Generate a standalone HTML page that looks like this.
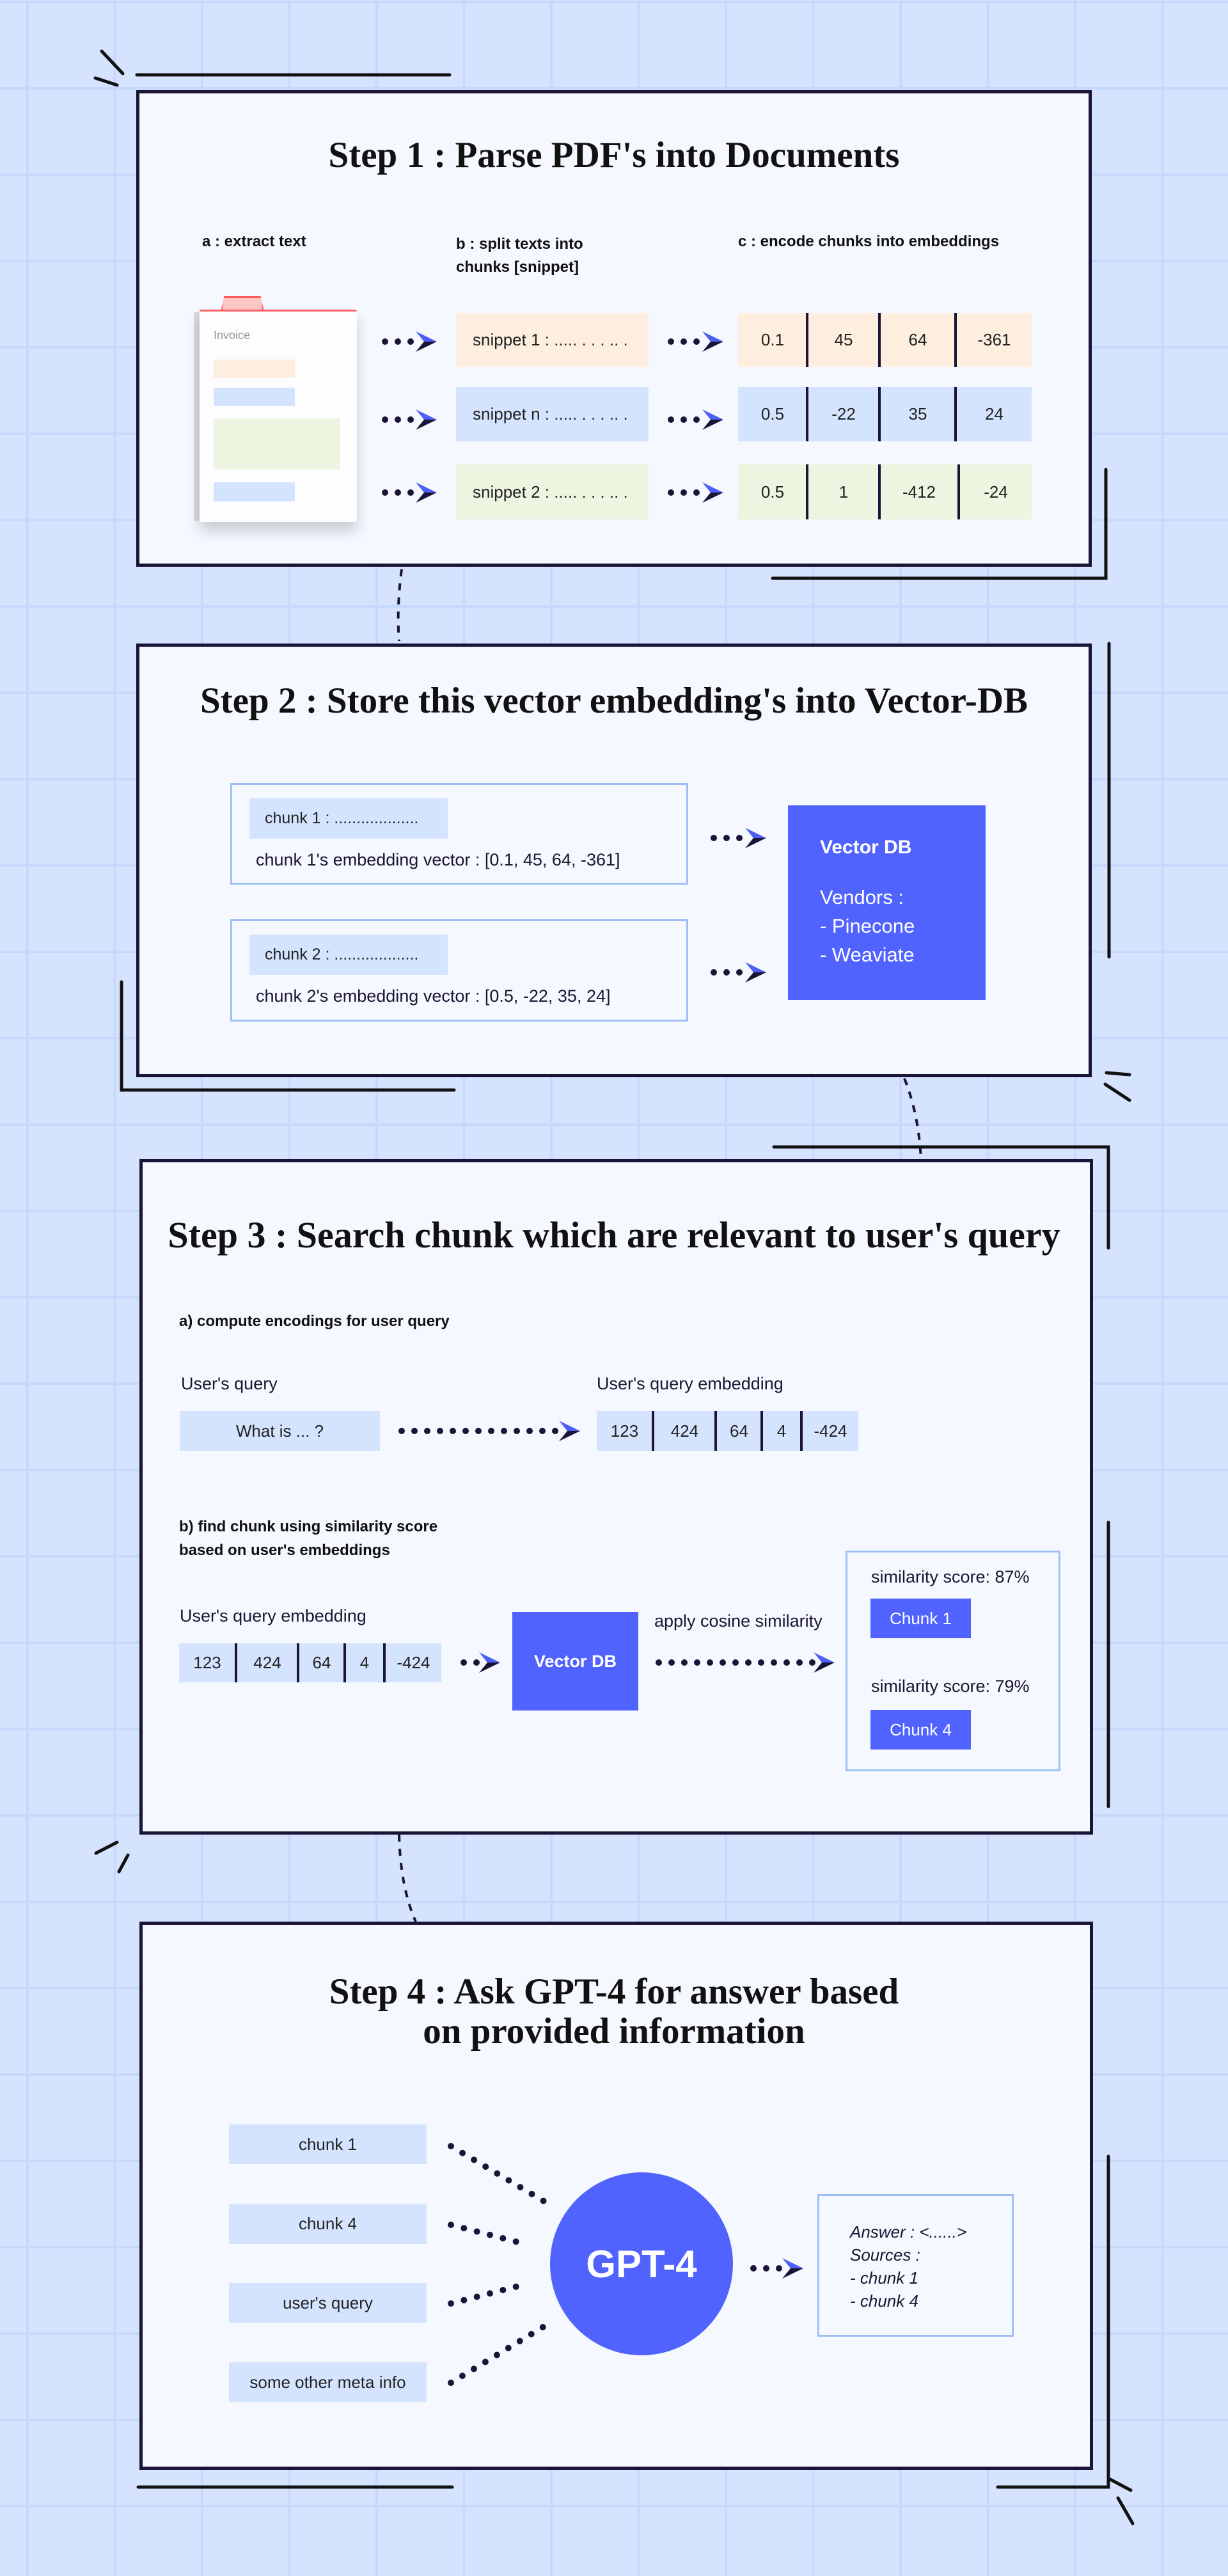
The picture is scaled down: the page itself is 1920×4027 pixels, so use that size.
<!DOCTYPE html>
<html><head><meta charset="utf-8">
<style>
*{margin:0;padding:0;box-sizing:border-box}
body{width:1920px;height:4027px;position:relative;overflow:hidden;font-family:"Liberation Sans",sans-serif;color:#1a1530;
background-color:#d5e3ff;
background-image:linear-gradient(to right,#c8d8fb 0,#c8d8fb 4px,transparent 4px),linear-gradient(to bottom,#c8d8fb 0,#c8d8fb 4px,transparent 4px);
background-size:136.5px 135px;background-position:41px 0,0 136px}
.a{position:absolute}
.panel{position:absolute;background:#f5f8ff;border:5px solid #1a1436}
.t{position:absolute;white-space:nowrap}
.title{font-family:"Liberation Serif",serif;font-weight:bold;font-size:57px;color:#111;text-align:center;left:0;width:1920px}
.lbl{font-weight:bold;font-size:24px;color:#111}
.box{position:absolute;display:flex;align-items:center;justify-content:center;font-size:26px;color:#222}
.cell{position:absolute;display:flex;align-items:center;justify-content:center;font-size:26px;color:#222;height:100%;top:0}
.div{position:absolute;top:0;width:4px;height:100%;background:#1a1436}
</style></head><body>

<!-- STEP 1 -->
<div class="panel" style="left:213px;top:141px;width:1494px;height:745px"></div>
<div class="t title" style="top:210px;line-height:66px">Step 1 : Parse PDF's into Documents</div>
<div class="t lbl" style="left:316px;top:364px">a : extract text</div>
<div class="t lbl" style="left:713px;top:364px;line-height:36px">b : split texts into<br>chunks [snippet]</div>
<div class="t lbl" style="left:1154px;top:364px">c : encode chunks into embeddings</div>

<!-- invoice -->
<div class="a" style="left:303px;top:488px;width:12px;height:326px;background:#d8d9de"></div>
<div class="a" style="left:345px;top:463px;width:68px;height:24px;background:#ffc6c6;border:3px solid #ff5a5a;border-bottom:none;clip-path:polygon(8% 0,92% 0,100% 100%,0 100%)"></div>
<div class="a" style="left:312px;top:484px;width:246px;height:332px;background:#fdfdff;border-top:3px solid #ff6060;box-shadow:0 14px 22px rgba(0,0,0,.18);border-radius:3px"></div>
<div class="t" style="left:334px;top:514px;font-size:18px;color:#999">Invoice</div>
<div class="a" style="left:334px;top:562px;width:127px;height:29px;background:#fdeee0"></div>
<div class="a" style="left:334px;top:606px;width:127px;height:29px;background:#d4e4ff"></div>
<div class="a" style="left:334px;top:654px;width:198px;height:80px;background:#edf4e0"></div>
<div class="a" style="left:334px;top:754px;width:127px;height:30px;background:#d4e4ff"></div>

<div class="box" style="left:713px;top:489px;width:301px;height:85px;background:#fdeee0;justify-content:flex-start;padding-left:26px">snippet 1 : ..... . . . .. .</div>
<div class="box" style="left:713px;top:605px;width:301px;height:85px;background:#d4e4ff;justify-content:flex-start;padding-left:26px">snippet n : ..... . . . .. .</div>
<div class="box" style="left:713px;top:726px;width:301px;height:86px;background:#edf4e0;justify-content:flex-start;padding-left:26px">snippet 2 : ..... . . . .. .</div>

<div class="a" style="left:1154px;top:489px;width:459px;height:85px;background:#fdeee0">
 <div class="cell" style="left:0;width:108px">0.1</div><div class="div" style="left:106px"></div>
 <div class="cell" style="left:110px;width:110px">45</div><div class="div" style="left:219px"></div>
 <div class="cell" style="left:223px;width:116px">64</div><div class="div" style="left:338px"></div>
 <div class="cell" style="left:342px;width:117px">-361</div></div>
<div class="a" style="left:1154px;top:605px;width:459px;height:85px;background:#d4e4ff">
 <div class="cell" style="left:0;width:108px">0.5</div><div class="div" style="left:106px"></div>
 <div class="cell" style="left:110px;width:110px">-22</div><div class="div" style="left:219px"></div>
 <div class="cell" style="left:223px;width:116px">35</div><div class="div" style="left:338px"></div>
 <div class="cell" style="left:342px;width:117px">24</div></div>
<div class="a" style="left:1154px;top:726px;width:459px;height:86px;background:#edf4e0">
 <div class="cell" style="left:0;width:108px">0.5</div><div class="div" style="left:106px"></div>
 <div class="cell" style="left:110px;width:110px">1</div><div class="div" style="left:219px"></div>
 <div class="cell" style="left:223px;width:120px">-412</div><div class="div" style="left:343px"></div>
 <div class="cell" style="left:347px;width:112px">-24</div></div>

<!-- STEP 2 -->
<div class="panel" style="left:213px;top:1006px;width:1494px;height:678px"></div>
<div class="t title" style="top:1063px;line-height:66px">Step 2 : Store this vector embedding's into Vector-DB</div>
<div class="a" style="left:360px;top:1224px;width:716px;height:159px;border:3px solid #9fc0f5"></div>
<div class="box" style="left:390px;top:1248px;width:310px;height:63px;background:#d4e4ff;justify-content:flex-start;padding-left:24px;font-size:25px">chunk 1 : ...................</div>
<div class="t" style="left:400px;top:1329px;font-size:27px">chunk 1's embedding vector : [0.1, 45, 64, -361]</div>
<div class="a" style="left:360px;top:1437px;width:716px;height:160px;border:3px solid #9fc0f5"></div>
<div class="box" style="left:390px;top:1461px;width:310px;height:63px;background:#d4e4ff;justify-content:flex-start;padding-left:24px;font-size:25px">chunk 2 : ...................</div>
<div class="t" style="left:400px;top:1542px;font-size:27px">chunk 2's embedding vector : [0.5, -22, 35, 24]</div>
<div class="a" style="left:1232px;top:1259px;width:309px;height:304px;background:#5063fe"></div>
<div class="t" style="left:1282px;top:1308px;font-size:30px;font-weight:bold;color:#fff">Vector DB</div>
<div class="t" style="left:1282px;top:1380px;font-size:31px;color:#fff;line-height:45px">Vendors :<br>- Pinecone<br>- Weaviate</div>

<!-- STEP 3 -->
<div class="panel" style="left:218px;top:1812px;width:1491px;height:1056px"></div>
<div class="t title" style="top:1898px;line-height:66px;font-size:58px">Step 3 : Search chunk which are relevant to user's query</div>
<div class="t lbl" style="left:280px;top:2052px">a) compute encodings for user query</div>
<div class="t" style="left:283px;top:2148px;font-size:27px">User's query</div>
<div class="box" style="left:281px;top:2206px;width:313px;height:62px;background:#d4e4ff">What is ... ?</div>
<div class="t" style="left:933px;top:2148px;font-size:27px">User's query embedding</div>
<div class="a" style="left:933px;top:2206px;width:409px;height:62px;background:#d4e4ff">
 <div class="cell" style="left:0;width:87px">123</div><div class="div" style="left:86px"></div>
 <div class="cell" style="left:90px;width:95px">424</div><div class="div" style="left:184px"></div>
 <div class="cell" style="left:188px;width:69px">64</div><div class="div" style="left:256px"></div>
 <div class="cell" style="left:260px;width:58px">4</div><div class="div" style="left:318px"></div>
 <div class="cell" style="left:322px;width:87px">-424</div></div>
<div class="t lbl" style="left:280px;top:2368px;line-height:37px">b) find chunk using similarity score<br>based on user's embeddings</div>
<div class="t" style="left:281px;top:2511px;font-size:27px">User's query embedding</div>
<div class="a" style="left:280px;top:2569px;width:410px;height:61px;background:#d4e4ff">
 <div class="cell" style="left:0;width:88px">123</div><div class="div" style="left:87px"></div>
 <div class="cell" style="left:91px;width:94px">424</div><div class="div" style="left:184px"></div>
 <div class="cell" style="left:188px;width:70px">64</div><div class="div" style="left:257px"></div>
 <div class="cell" style="left:261px;width:58px">4</div><div class="div" style="left:319px"></div>
 <div class="cell" style="left:323px;width:87px">-424</div></div>
<div class="box" style="left:801px;top:2520px;width:197px;height:154px;background:#5063fe;color:#fff;font-weight:bold;font-size:27px">Vector DB</div>
<div class="t" style="left:1023px;top:2519px;font-size:27px">apply cosine similarity</div>
<div class="a" style="left:1322px;top:2424px;width:336px;height:345px;border:3px solid #9fc0f5"></div>
<div class="t" style="left:1362px;top:2450px;font-size:27px">similarity score: 87%</div>
<div class="box" style="left:1361px;top:2499px;width:157px;height:62px;background:#5063fe;color:#fff">Chunk 1</div>
<div class="t" style="left:1362px;top:2621px;font-size:27px">similarity score: 79%</div>
<div class="box" style="left:1361px;top:2673px;width:157px;height:62px;background:#5063fe;color:#fff">Chunk 4</div>

<!-- STEP 4 -->
<div class="panel" style="left:218px;top:3004px;width:1491px;height:857px"></div>
<div class="t title" style="top:3083px;line-height:62px">Step 4 : Ask GPT-4 for answer based<br>on provided information</div>
<div class="box" style="left:358px;top:3321px;width:309px;height:62px;background:#d4e4ff">chunk 1</div>
<div class="box" style="left:358px;top:3445px;width:309px;height:63px;background:#d4e4ff">chunk 4</div>
<div class="box" style="left:358px;top:3569px;width:309px;height:62px;background:#d4e4ff">user's query</div>
<div class="box" style="left:358px;top:3693px;width:309px;height:62px;background:#d4e4ff">some other meta info</div>
<div class="box" style="left:860px;top:3396px;width:286px;height:286px;border-radius:50%;background:#5063fe;color:#fff;font-weight:bold;font-size:60px">GPT-4</div>
<div class="a" style="left:1278px;top:3430px;width:307px;height:223px;border:3px solid #9fc0f5"></div>
<div class="t" style="left:1329px;top:3471px;font-size:26px;font-style:italic;line-height:36px">Answer : &lt;......&gt;<br>Sources :<br>- chunk 1<br>- chunk 4</div>

<svg class="a" style="left:0;top:0" width="1920" height="4027" viewBox="0 0 1920 4027">
<defs>
<g id="ah"><polygon points="-33,-16 0,0 -20,0" fill="#4d5ff5"/><polygon points="-20,0 0,0 -33,16" fill="#1a1436"/></g>
</defs>
<g stroke="#1a1436" stroke-width="10" stroke-linecap="round" fill="none" stroke-dasharray="0 20">
<line x1="602" y1="534" x2="643" y2="534"/><line x1="602" y1="656" x2="643" y2="656"/><line x1="602" y1="770" x2="643" y2="770"/>
<line x1="1049" y1="534" x2="1090" y2="534"/><line x1="1049" y1="656" x2="1090" y2="656"/><line x1="1049" y1="770" x2="1090" y2="770"/>
<line x1="1116" y1="1310" x2="1157" y2="1310"/><line x1="1116" y1="1520" x2="1157" y2="1520"/>
<line x1="628" y1="2237" x2="869" y2="2237"/>
<line x1="725" y1="2599" x2="746" y2="2599"/>
<line x1="1030" y1="2599" x2="1271" y2="2599"/>
<line x1="705" y1="3355" x2="852" y2="3442" stroke-dasharray="0 21"/>
<line x1="705" y1="3478" x2="825" y2="3509" stroke-dasharray="0 21"/>
<line x1="705" y1="3601" x2="825" y2="3570" stroke-dasharray="0 21"/>
<line x1="705" y1="3725" x2="852" y2="3636" stroke-dasharray="0 21"/>
<line x1="1178" y1="3546" x2="1219" y2="3546"/>
</g>
<use href="#ah" x="683" y="534"/><use href="#ah" x="683" y="656"/><use href="#ah" x="683" y="770"/>
<use href="#ah" x="1131" y="534"/><use href="#ah" x="1131" y="656"/><use href="#ah" x="1131" y="770"/>
<use href="#ah" x="1198" y="1310"/><use href="#ah" x="1198" y="1520"/>
<use href="#ah" x="907" y="2237"/><use href="#ah" x="782" y="2599"/><use href="#ah" x="1305" y="2599"/>
<use href="#ah" x="1256" y="3546"/>
<g stroke="#1a1436" stroke-width="4" fill="none" stroke-dasharray="11 11">
<path d="M628 890 Q620 950 624 1002"/>
<path d="M1414 1686 Q1436 1740 1440 1812"/>
<path d="M624 2868 Q626 2950 650 3004"/>
</g>
<g stroke="#111" stroke-width="5" fill="none" stroke-linecap="round">
<line x1="214" y1="117" x2="703" y2="117"/>
<line x1="159" y1="80" x2="192" y2="115"/><line x1="149" y1="122" x2="183" y2="133"/>
<polyline points="1729,734 1729,904 1208,904"/>
<line x1="1734" y1="1006" x2="1734" y2="1496"/>
<polyline points="190,1535 190,1704 710,1704"/>
<line x1="1730" y1="1677" x2="1766" y2="1680"/><line x1="1728" y1="1695" x2="1766" y2="1720"/>
<polyline points="1210,1793 1733,1793 1733,1951"/>
<line x1="1733" y1="2380" x2="1733" y2="2824"/>
<line x1="150" y1="2897" x2="183" y2="2880"/><line x1="186" y1="2926" x2="200" y2="2900"/>
<line x1="216" y1="3888" x2="707" y2="3888"/>
<polyline points="1560,3888 1733,3888 1733,3371"/>
<line x1="1736" y1="3876" x2="1768" y2="3893"/><line x1="1748" y1="3905" x2="1771" y2="3945"/>
</g>
</svg>
</body></html>
